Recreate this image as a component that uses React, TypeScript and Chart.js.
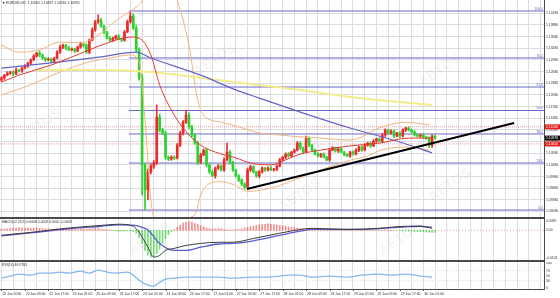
import { useEffect, useRef } from "react";
import { Chart, registerables } from "chart.js";

Chart.register(...registerables);

// ---------------- data ----------------
const xLabels = [
  "22 Jun 2016", "22 Jun 09:00", "22 Jun 17:00", "23 Jun 01:00", "23 Jun 09:00", "23 Jun 17:00",
  "24 Jun 01:00", "24 Jun 09:00", "24 Jun 17:00", "27 Jun 01:00", "27 Jun 09:00", "27 Jun 17:00",
  "28 Jun 01:00", "28 Jun 09:00", "28 Jun 17:00", "29 Jun 01:00", "29 Jun 09:00", "29 Jun 17:00",
  "30 Jun 01:00",
];
const barsPerLabel = 8;
const barsPerGrid = 4;

const firstOpen = 1.1246;
const closes = [
  1.1252, 1.1259, 1.1264, 1.1267, 1.1262, 1.1272, 1.1270, 1.1277, 1.1282, 1.1290,
  1.1298, 1.1308, 1.1316, 1.1311, 1.1303, 1.1298, 1.1300, 1.1295, 1.1303, 1.1318,
  1.1331, 1.1336, 1.1329, 1.1324, 1.1326, 1.1321, 1.1331, 1.1339, 1.1336, 1.1318,
  1.1349, 1.1375, 1.1396, 1.1401, 1.1385, 1.1370, 1.1354, 1.1349, 1.1354, 1.1360,
  1.1352, 1.1349, 1.1370, 1.1396, 1.1411, 1.1380, 1.1324, 1.1252, 1.1028, 1.0964,
  1.1010, 1.1025, 1.1033, 1.1151, 1.1118, 1.1110, 1.1048, 1.1043, 1.1048, 1.1046,
  1.1079, 1.1110, 1.1138, 1.1156, 1.1126, 1.1105, 1.1084, 1.1035, 1.1054, 1.1066,
  1.1028, 1.1010, 1.1000, 1.1020, 1.1025, 1.1015, 1.1041, 1.1061, 1.1035, 1.1015,
  1.1000, 1.0989, 1.0979, 1.0971, 1.1015, 1.1023, 1.1010, 1.1000, 1.1010, 1.1020,
  1.1015, 1.1020, 1.1015, 1.1017, 1.1025, 1.1041, 1.1048, 1.1056, 1.1051, 1.1061,
  1.1066, 1.1084, 1.1072, 1.1061, 1.1097, 1.1079, 1.1066, 1.1056, 1.1051, 1.1056,
  1.1048, 1.1041, 1.1066, 1.1072, 1.1064, 1.1069, 1.1061, 1.1054, 1.1051, 1.1061,
  1.1056, 1.1066, 1.1074, 1.1066, 1.1079, 1.1084, 1.1077, 1.1089, 1.1095, 1.1089,
  1.1105, 1.1118, 1.1110, 1.1115, 1.1102, 1.1110, 1.1102, 1.1118, 1.1123, 1.1118,
  1.1113, 1.1105, 1.1102, 1.1105, 1.1100, 1.1097, 1.1079, 1.1102, 1.1097,
];
const upWickPips = [
  3, 2, 4, 2, 3, 5, 2, 3, 4, 2,
  3, 4, 2, 5, 3, 2, 4, 3, 2, 4,
  5, 3, 2, 4, 3, 2, 3, 5, 2, 4,
  3, 6, 4, 13, 5, 3, 2, 4, 3, 2,
  3, 2, 4, 5, 10, 6, 8, 5, 9, 4,
  7, 5, 6, 31, 8, 4, 5, 3, 4, 3,
  4, 5, 4, 13, 6, 4, 3, 5, 4, 3,
  4, 3, 5, 3, 4, 3, 5, 23, 4, 3,
  2, 3, 4, 3, 5, 4, 3, 2, 4, 3,
  2, 3, 4, 2, 3, 4, 2, 3, 4, 2,
  3, 4, 3, 2, 5, 3, 2, 3, 4, 2,
  3, 2, 4, 3, 2, 3, 4, 2, 3, 2,
  3, 4, 2, 3, 4, 2, 3, 4, 2, 3,
  4, 3, 2, 4, 3, 2, 4, 3, 2, 3,
  2, 3, 4, 2, 3, 2, 3, 4, 2,
];
const downWickPips = [
  3, 4, 2, 3, 5, 2, 3, 4, 2, 3,
  4, 2, 3, 5, 3, 4, 2, 3, 4, 2,
  3, 4, 5, 2, 3, 4, 2, 3, 5, 3,
  4, 2, 3, 4, 3, 5, 2, 3, 4, 3,
  2, 4, 3, 2, 3, 4, 5, 6, 77, 52,
  26, 5, 6, 4, 5, 3, 6, 4, 3, 5,
  3, 4, 5, 3, 4, 5, 3, 6, 4, 3,
  5, 4, 3, 6, 4, 3, 4, 3, 5, 4,
  3, 4, 5, 5, 3, 4, 3, 4, 5, 3,
  4, 3, 2, 3, 4, 2, 3, 4, 3, 2,
  3, 2, 4, 3, 2, 4, 3, 2, 3, 4,
  2, 3, 4, 2, 3, 4, 2, 3, 2, 4,
  3, 2, 4, 3, 2, 3, 4, 2, 3, 2,
  3, 4, 2, 3, 4, 2, 3, 2, 4, 3,
  2, 3, 2, 3, 4, 3, 7, 6, 3,
];

const priceMin = 1.0894;
const priceMax = 1.14523;
const priceTicks = [
  1.0908, 1.0938, 1.0968, 1.0998, 1.1028, 1.1058, 1.1088, 1.1118, 1.1148,
  1.1178, 1.1208, 1.1238, 1.1268, 1.1298, 1.1328, 1.1358, 1.1388, 1.1418,
];

// moving averages / bands: [bar, price]
const redMA = [
  [0, 1.1241], [6, 1.1259], [17, 1.1285], [30, 1.1324], [37, 1.1344], [44, 1.1357],
  [47, 1.1354], [51, 1.1311], [54, 1.1234], [59, 1.1156], [64, 1.1105], [68, 1.1079],
  [73, 1.1061], [80, 1.1046], [85, 1.1033], [92, 1.1028], [97, 1.1041], [102, 1.1056],
  [109, 1.1066], [119, 1.1077], [129, 1.1084], [139, 1.1097], [147, 1.1097],
];
const blueMA = [
  [0, 1.1277], [20, 1.1293], [34, 1.1306], [46, 1.1318], [51, 1.1303], [68, 1.1259],
  [80, 1.1221], [88, 1.1200], [102, 1.1164], [119, 1.1123], [136, 1.1087], [147, 1.1059],
];
const yellowMA = [
  [12, 1.1272], [34, 1.1272], [51, 1.1267], [68, 1.1252], [85, 1.1236], [102, 1.1221],
  [119, 1.1203], [147, 1.1182],
];
const bandUpper = [
  [0, 1.1336], [6, 1.1318], [13, 1.1324], [20, 1.1344], [27, 1.1342], [34, 1.1367],
  [38, 1.1393], [43, 1.1419], [46, 1.1434], [48, 1.1452], [50, 1.1520], [53, 1.1560],
  [56, 1.1530], [60, 1.1452], [64, 1.1336], [67, 1.1195], [69, 1.1156], [75, 1.1138],
  [81, 1.1126], [88, 1.1110], [95, 1.1105], [102, 1.1100], [109, 1.1097], [119, 1.1092],
  [130, 1.1126], [138, 1.1138], [146, 1.1131],
];
const bandLower = [
  [0, 1.1208], [10, 1.1234], [20, 1.1267], [30, 1.1293], [37, 1.1303], [44, 1.1311],
  [47, 1.1293], [49, 1.1144], [51, 1.0938], [52, 1.0894], [56, 1.0870], [62, 1.0890],
  [66, 1.0900], [68, 1.0950], [70, 1.0975], [75, 1.0985], [80, 1.0975], [84, 1.0960],
  [90, 1.0965], [95, 1.0975], [102, 1.0995], [109, 1.1015], [119, 1.1040], [125, 1.1051],
  [130, 1.1067], [138, 1.1074], [146, 1.1066],
];

const fibLow = 1.0912;
const fibHigh = 1.1424;
const fibStartBar = 43.5;
const fibRatios = [0, 23.6, 38.2, 50, 61.8, 76.4, 100];
const trendLine = [[83.8, 1.0966], [175, 1.1136]];
const markLines = [1.1126, 1.1082];
const bidPrice = 1.1097;

const macdMin = -0.0102;
const macdMax = 0.0039;
const macdMain = [
  [0, -0.0017], [10, -0.0007], [22, 0.0007], [34, 0.0017], [40, 0.0021], [45, 0.0014],
  [47, -0.0007], [50, -0.0058], [52, -0.0092], [54, -0.0086], [56, -0.0069], [59, -0.0062],
  [63, -0.0052], [68, -0.0045], [74, -0.0041], [79, -0.0041], [86, -0.0028], [95, -0.0010],
  [102, 0.0003], [106, 0.0007], [118, 0.0003], [129, 0.0007], [138, 0.0014], [143, 0.0014],
  [147, 0.0007],
];
const macdSignal = [
  [0, -0.0019], [10, -0.0009], [22, 0.0004], [34, 0.0014], [40, 0.0019], [45, 0.0018],
  [48, 0.0010], [50, 0.0001], [54, -0.0045], [59, -0.0069], [63, -0.0069], [68, -0.0058],
  [74, -0.0047], [79, -0.0045], [86, -0.0036], [95, -0.0017], [102, -0.0003], [106, 0.0003],
  [118, 0.0003], [129, 0.0006], [138, 0.0012], [143, 0.0014], [147, 0.0010],
];
const macdHistPips = [
  4, 5, 6, 7, 8, 8, 9, 9, 8, 8,
  7, 8, 8, 7, 6, 5, 5, 4, 4, 5,
  6, 6, 5, 5, 4, 4, 4, 5, 5, 4,
  5, 6, 7, 6, 4, 3, 2, 1, -1, -2,
  -3, -3, -3, -2, -2, -4, -10, -25, -45, -70,
  -85, -92, -90, -80, -65, -45, -28, -15, -5, 3,
  10, 18, 25, 28, 30, 28, 24, 20, 16, 12,
  8, 6, 5, 5, 6, 5, 3, 2, 1, 1,
  2, 3, 5, 8, 10, 13, 15, 17, 19, 20,
  21, 22, 21, 20, 19, 17, 16, 14, 12, 10,
  9, 8, 6, 5, 4, 4, 3, 2, 2, 1,
  1, 1, 0, 0, 1, 1, 0, -1, 0, 1,
  1, 1, 0, 0, 1, 1, 0, 1, 1, 0,
  0, 1, 1, 0, 0, -1, -1, -2, -2, -3,
  -3, -4, -4, -5, -5, -6, -6, -7, -7,
];
const macdTicks = [0.0039, 0, -0.0102];

const rsi = [
  [0, 40], [3, 48], [6, 56], [10, 52], [13, 60], [17, 60], [20, 64], [23, 60], [27, 68],
  [30, 60], [33, 72], [36, 64], [39, 60], [43, 64], [45, 52], [47, 32], [50, 12], [52, 8],
  [54, 24], [56, 36], [59, 40], [63, 44], [68, 44], [74, 44], [79, 40], [86, 44], [91, 44],
  [95, 48], [98, 52], [102, 52], [106, 44], [112, 48], [118, 44], [123, 52], [129, 56],
  [133, 52], [138, 56], [143, 48], [147, 44],
];
const rsiLevels = [70, 30];
const rsiTicks = [100, 70, 50, 30, 0];

const headerMain = "EURUSD,H1  1.10962 1.10967 1.10916 1.10935";
const headerMacd = "MACD(12,26,9) 0.0008 0.0009 0.0000 -0.0008";
const headerRsi = "RSI(14) 46.9783";
const watermark = "AETOS";

// ---------------- styles ----------------
const X_MIN = -0.5;
const X_MAX = 185.2;
const AXIS_W = 16;
const PIP = 0.0001;
const GRID = "#dcdce4";
const UP = "#ef2a2a";
const DOWN = "#2fd12f";
const FIB = "#6a6ac8";
const FONT = "3.4px Arial";
const TXT = "#303030";

const opens = closes.map((c, i) => (i === 0 ? firstOpen : closes[i - 1]));
const highs = closes.map((c, i) => Math.max(opens[i], c) + upWickPips[i] * PIP);
const lows = closes.map((c, i) => Math.min(opens[i], c) - downWickPips[i] * PIP);
const candleColors = closes.map((c, i) => (c >= opens[i] ? UP : DOWN));
const pts = (a: number[][]) => a.map(([x, y]) => ({ x, y }));

function xScale() {
  return {
    type: "linear",
    min: X_MIN,
    max: X_MAX,
    offset: false,
    afterBuildTicks: (s: any) => {
      const t: any[] = [];
      for (let v = 0; v <= X_MAX; v += barsPerGrid) t.push({ value: v });
      s.ticks = t;
    },
    grid: { color: GRID, lineWidth: 1, drawTicks: false, offset: false },
    border: { display: false },
    ticks: { display: false },
    afterFit: (s: any) => {
      s.height = 0;
    },
  };
}

function yScale(min: number, max: number, ticks: number[] | null, showGrid: boolean) {
  return {
    type: "linear",
    position: "right",
    min,
    max,
    afterBuildTicks: (s: any) => {
      s.ticks = (ticks || []).map((v) => ({ value: v }));
    },
    grid: { display: showGrid, color: GRID, lineWidth: 1, drawTicks: false },
    border: { display: false },
    ticks: { display: false },
    afterFit: (s: any) => {
      s.width = AXIS_W;
    },
  };
}

const baseOptions = (scales: any) => ({
  responsive: false,
  animation: false,
  events: [],
  layout: { padding: 0 },
  plugins: { legend: { display: false }, tooltip: { enabled: false } },
  scales,
});

const line = (data: any, color: string, width: number, order: number, extra: any = {}) => ({
  type: "line",
  data,
  borderColor: color,
  borderWidth: width,
  pointRadius: 0,
  cubicInterpolationMode: "monotone",
  order,
  ...extra,
});

function drawWatermarks(chart: any, spots: number[][]) {
  const { ctx } = chart;
  ctx.save();
  ctx.font = "bold 14px Arial";
  ctx.fillStyle = "rgba(120,120,120,0.07)";
  ctx.textAlign = "center";
  ctx.textBaseline = "middle";
  spots.forEach(([x, y]) => {
    ctx.save();
    ctx.translate(x, y);
    ctx.rotate(-0.6);
    ctx.fillText(watermark, 0, 0);
    ctx.restore();
  });
  ctx.restore();
}

function priceBox(ctx: any, area: any, y: number, text: string, bg: string) {
  ctx.fillStyle = bg;
  ctx.fillRect(area.right + 1, y - 2.5, AXIS_W - 1, 5);
  ctx.fillStyle = "#fff";
  ctx.fillText(text, area.right + 2, y);
}

const mainPlugin = {
  id: "mainDeco",
  beforeDatasetsDraw(chart: any) {
    drawWatermarks(chart, [[40, 125], [215, 60], [440, 70], [450, 185], [300, 195]]);
  },
  afterDraw(chart: any) {
    const { ctx, chartArea, scales } = chart;
    const y = scales.y;
    ctx.save();
    ctx.font = FONT;
    ctx.textBaseline = "middle";
    ctx.fillStyle = TXT;
    priceTicks.forEach((v) => ctx.fillText(v.toFixed(5), chartArea.right + 2, y.getPixelForValue(v)));
    // fib labels
    ctx.fillStyle = FIB;
    ctx.textAlign = "right";
    ctx.textBaseline = "bottom";
    fibRatios.forEach((r) => {
      const v = fibLow + ((fibHigh - fibLow) * r) / 100;
      ctx.fillText(r.toFixed(1), chartArea.right - 1, y.getPixelForValue(v) - 0.5);
    });
    // axis price boxes
    ctx.textAlign = "left";
    ctx.textBaseline = "middle";
    priceBox(ctx, chartArea, y.getPixelForValue(markLines[0]), markLines[0].toFixed(5), "#e81c1c");
    priceBox(ctx, chartArea, y.getPixelForValue(markLines[1]), markLines[1].toFixed(5), "#e81c1c");
    priceBox(ctx, chartArea, y.getPixelForValue(bidPrice), bidPrice.toFixed(5), "#111");
    // header
    ctx.fillStyle = TXT;
    ctx.fillText("\u25BC " + headerMain, 2, 3.5);
    ctx.restore();
  },
};

const macdPlugin = {
  id: "macdDeco",
  beforeDatasetsDraw(chart: any) {
    drawWatermarks(chart, [[150, 20], [400, 20]]);
  },
  afterDraw(chart: any) {
    const { ctx, chartArea, scales } = chart;
    ctx.save();
    ctx.font = FONT;
    ctx.fillStyle = TXT;
    ctx.textBaseline = "middle";
    macdTicks.forEach((v) => {
      const py = Math.min(Math.max(scales.y.getPixelForValue(v), chartArea.top + 2), chartArea.bottom - 2);
      ctx.fillText(v === 0 ? "0.00" : v.toFixed(4), chartArea.right + 2, py);
    });
    ctx.fillText(headerMacd, 2, chartArea.top + 3);
    ctx.restore();
  },
};

const rsiPlugin = {
  id: "rsiDeco",
  afterDraw(chart: any) {
    const { ctx, chartArea, scales } = chart;
    ctx.save();
    ctx.font = FONT;
    ctx.fillStyle = TXT;
    ctx.textBaseline = "middle";
    rsiTicks.forEach((v) => ctx.fillText(String(v), chartArea.right + 2, scales.y.getPixelForValue(v)));
    ctx.fillText(headerRsi, 2, chartArea.top + 3);
    // x labels
    ctx.textBaseline = "top";
    xLabels.forEach((lab, k) => {
      const px = scales.x.getPixelForValue(k * barsPerLabel);
      ctx.fillStyle = "#555";
      ctx.fillRect(Math.round(px), chartArea.bottom, 1, 2);
      ctx.fillStyle = TXT;
      ctx.fillText(lab, px + 1, chartArea.bottom + 3.5);
    });
    ctx.restore();
  },
};

function mainConfig(): any {
  const fibSets = fibRatios.map((r) => {
    const v = fibLow + ((fibHigh - fibLow) * r) / 100;
    return line([{ x: fibStartBar, y: v }, { x: X_MAX, y: v }], FIB, 1, 7, { cubicInterpolationMode: "default" });
  });
  const markSets = markLines.map((v) =>
    line([{ x: X_MIN, y: v }, { x: X_MAX, y: v }], "#e89a9a", 1, 8, { borderDash: [1, 1] })
  );
  return {
    type: "bar",
    data: {
      datasets: [
        line(pts(trendLine), "#000", 2, 0, { cubicInterpolationMode: "default" }),
        line(pts(redMA), "#e23a2e", 1, 1),
        line(pts(blueMA), "#6464c8", 1.2, 2),
        line(pts(yellowMA), "#f4ec8c", 2, 3),
        line(pts(bandUpper), "#f2b47c", 1, 4),
        line(pts(bandLower), "#f2b47c", 1, 4),
        {
          type: "bar",
          data: closes.map((c, i) => ({ x: i, y: [opens[i], c] })),
          backgroundColor: candleColors,
          borderWidth: 0,
          barThickness: 2,
          grouped: false,
          order: 5,
        },
        {
          type: "bar",
          data: closes.map((c, i) => ({ x: i, y: [lows[i], highs[i]] })),
          backgroundColor: candleColors,
          borderWidth: 0,
          barThickness: 1,
          grouped: false,
          order: 6,
        },
        ...fibSets,
        ...markSets,
      ],
    },
    options: baseOptions({ x: xScale(), y: yScale(priceMin, priceMax, priceTicks, true) }),
    plugins: [mainPlugin],
  };
}

function macdConfig(): any {
  return {
    type: "bar",
    data: {
      datasets: [
        line(pts(macdMain), "#3c3c3c", 1, 0),
        line(pts(macdSignal), "#5a5ad2", 1.3, 1),
        line([{ x: X_MIN, y: 0 }, { x: X_MAX, y: 0 }], "#e0a8a8", 1, 3, { borderDash: [1, 2] }),
        {
          type: "bar",
          data: macdHistPips.map((h, i) => ({ x: i, y: h * PIP })),
          backgroundColor: macdHistPips.map((h) => (h >= 0 ? "rgba(235,70,70,0.6)" : "rgba(60,210,60,0.7)")),
          borderWidth: 0,
          barThickness: 1,
          grouped: false,
          order: 2,
        },
      ],
    },
    options: baseOptions({ x: xScale(), y: yScale(macdMin, macdMax, null, false) }),
    plugins: [macdPlugin],
  };
}

function rsiConfig(): any {
  const levelSets = rsiLevels.map((v) =>
    line([{ x: X_MIN, y: v }, { x: X_MAX, y: v }], "#d8d8d8", 1, 2, { borderDash: [1, 2] })
  );
  const opts = baseOptions({ x: xScale(), y: yScale(-3, 104, null, false) });
  opts.layout = { padding: { bottom: 9 } };
  return {
    type: "line",
    data: {
      datasets: [line(pts(rsi), "#86b6ec", 1.3, 0), ...levelSets],
    },
    options: opts,
    plugins: [rsiPlugin],
  };
}

export default function App() {
  const a = useRef<HTMLCanvasElement>(null);
  const b = useRef<HTMLCanvasElement>(null);
  const c = useRef<HTMLCanvasElement>(null);

  useEffect(() => {
    const charts = [
      new Chart(a.current as HTMLCanvasElement, mainConfig()),
      new Chart(b.current as HTMLCanvasElement, macdConfig()),
      new Chart(c.current as HTMLCanvasElement, rsiConfig()),
    ];
    return () => charts.forEach((ch) => ch.destroy());
  }, []);

  const abs = (top: number, h: number): any => ({ position: "absolute", left: 0, top, width: 560, height: h });
  const bar = (top: number, h: number): any => ({ position: "absolute", left: 0, top, width: 545, height: h, background: "#4a4a4a" });

  return (
    <div style={{ position: "fixed", left: 0, top: 0, width: 560, height: 298, background: "#fff", overflow: "hidden" }}>
      <canvas ref={a} width={560} height={217} style={abs(0, 217)} />
      <canvas ref={b} width={560} height={41} style={abs(219, 41)} />
      <canvas ref={c} width={560} height={36} style={abs(262, 36)} />
      <div style={bar(217, 2)} />
      <div style={bar(260, 2)} />
      <div style={bar(289, 1)} />
      <div style={{ position: "absolute", left: 544, top: 0, width: 1, height: 290, background: "#4a4a4a" }} />
    </div>
  );
}
